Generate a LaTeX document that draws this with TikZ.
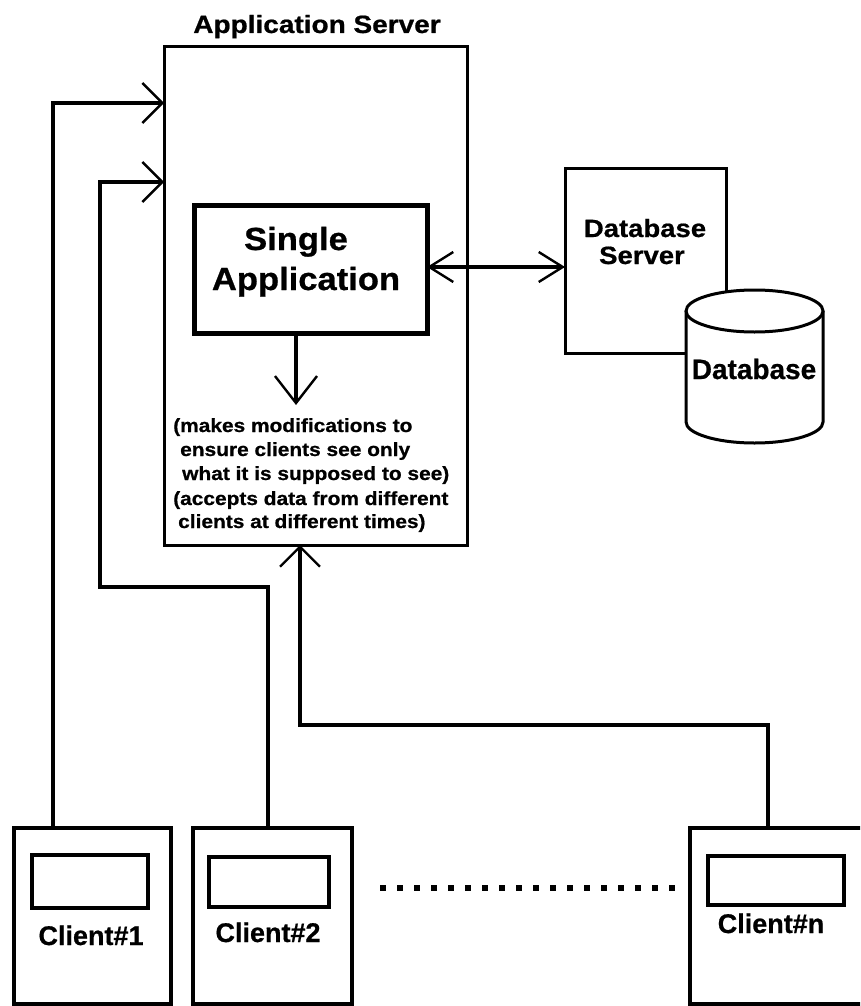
\documentclass[tikz,border=0pt]{standalone}
\usepackage{fontspec}
\setmainfont{Liberation Sans}[BoldFeatures={FakeBold=0.7}]
\usetikzlibrary{arrows.meta}
% horizontally widened text
\newcommand\wideby[2]{\scalebox{#1}[1]{#2}}

\begin{document}
\begin{tikzpicture}[x=1pt,y=-1pt,
  frame/.style={draw, line width=3pt, inner sep=0pt, outer sep=0pt},
  heavyframe/.style={draw, line width=4.5pt, inner sep=0pt, outer sep=0pt},
  conn/.style={line width=3.2pt, line join=miter},
  barb/.style={-{Straight Barb[length=20pt,width=40pt,line width=2.4pt]}},
  dbarb/.style={{Straight Barb[length=24pt,width=30pt,line width=2.4pt]}-{Straight Barb[length=24pt,width=30pt,line width=2.4pt]}},
  txt/.style={inner sep=0pt, anchor=base, font=\bfseries},
  note/.style={inner sep=0pt, anchor=base west, font=\bfseries\fontsize{19}{23}\selectfont},
  dotrow/.style={line width=6pt, dash pattern=on 6pt off 11pt}
]
\useasboundingbox (0,0) rectangle (860,1006);
\clip (0,0) rectangle (860,1006);

% servers
\node[frame, minimum width=303pt, minimum height=498pt] (app) at (315.5,296) {};
\node[heavyframe, line width=5pt, minimum width=233pt, minimum height=128pt] (sa) at (310.5,269) {};
\node[frame, minimum width=161pt, minimum height=185pt] (dbs) at (645.5,260.5) {};

% database cylinder
\fill[white] (686,422) ellipse [x radius=68.5, y radius=21];
\fill[white] (686,311) rectangle (823,422);
\draw[line width=3pt] (686,311) -- (686,422) arc[start angle=180, end angle=0, x radius=68.5, y radius=21] -- (823,311);
\draw[line width=3pt, fill=white] (754.5,311) ellipse [x radius=68.5, y radius=21];
\node[txt, font=\bfseries\fontsize{28}{30}\selectfont] (dbl) at (754,379) {Database};

% labels
\node[txt, font=\bfseries\fontsize{25}{28}\selectfont] (title) at (317,33) {\wideby{1.12}{Application Server}};
\node[txt, font=\bfseries\fontsize{32}{36}\selectfont] (sa1) at (296,250) {\wideby{1.08}{Single}};
\node[txt, font=\bfseries\fontsize{32}{36}\selectfont] (sa2) at (306,290) {\wideby{1.08}{Application}};
\node[txt, font=\bfseries\fontsize{25}{26}\selectfont] (dbs1) at (645,237) {\wideby{1.1}{Database}};
\node[txt, font=\bfseries\fontsize{25}{26}\selectfont] (dbs2) at (642,264) {\wideby{1.1}{Server}};

\node[note] (n1) at (173,432) {\wideby{1.1}{(makes modifications to}};
\node[note] (n2) at (180,456) {\wideby{1.1}{ensure clients see only}};
\node[note] (n3) at (182,480) {\wideby{1.1}{what it is supposed to see)}};
\node[note] (n4) at (173,505) {\wideby{1.1}{(accepts data from different}};
\node[note] (n5) at (178,528) {\wideby{1.1}{clients at different times)}};

% clients
\node[heavyframe, minimum width=157pt, minimum height=176pt] (c1) at (92.5,916) {};
\node[heavyframe, minimum width=159pt, minimum height=176pt] (c2) at (272.5,916) {};
\node[heavyframe, minimum width=190pt, minimum height=176pt] (cn) at (785,916) {};
\node[heavyframe, minimum width=116pt, minimum height=53pt] (s1) at (90,881.5) {};
\node[heavyframe, minimum width=120pt, minimum height=50pt] (s2) at (269,882) {};
\node[heavyframe, minimum width=136pt, minimum height=49pt] (sn) at (776,880.5) {};
\node[txt, font=\bfseries\fontsize{27}{30}\selectfont] (l1) at (91,945) {Client\#1};
\node[txt, font=\bfseries\fontsize{27}{30}\selectfont] (l2) at (268,942) {Client\#2};
\node[txt, font=\bfseries\fontsize{27}{30}\selectfont] (ln) at (771,933) {Client\#n};

% routing points
\coordinate (j1) at (53,103);
\coordinate (k1) at (268,587);
\coordinate (k2) at (100,587);
\coordinate (k3) at (100,182);
\coordinate (m1) at (768,725);
\coordinate (m2) at (300,725);
\coordinate (h) at (0,267);
\coordinate (v) at (296,405);
\coordinate (d1) at (380,888);
\coordinate (d2) at (678,888);

% connectors
\draw[conn, barb] (c1.north -| j1) -- (j1) -- (app.west |- j1);
\draw[conn, barb] (c2.north -| k1) -- (k1) -- (k2) -- (k3) -- (app.west |- k3);
\draw[conn, barb] (cn.north -| m1) -- (m1) -- (m2) -- (app.south -| m2);
\draw[conn, dbarb] (sa.east |- h) -- (dbs.west |- h);
\draw[conn, -{Straight Barb[length=27pt,width=42pt,line width=2.4pt]}] (sa.south -| v) -- (v);

% ellipsis between clients
\draw[dotrow] (d1) -- (d2);
\end{tikzpicture}
\end{document}
